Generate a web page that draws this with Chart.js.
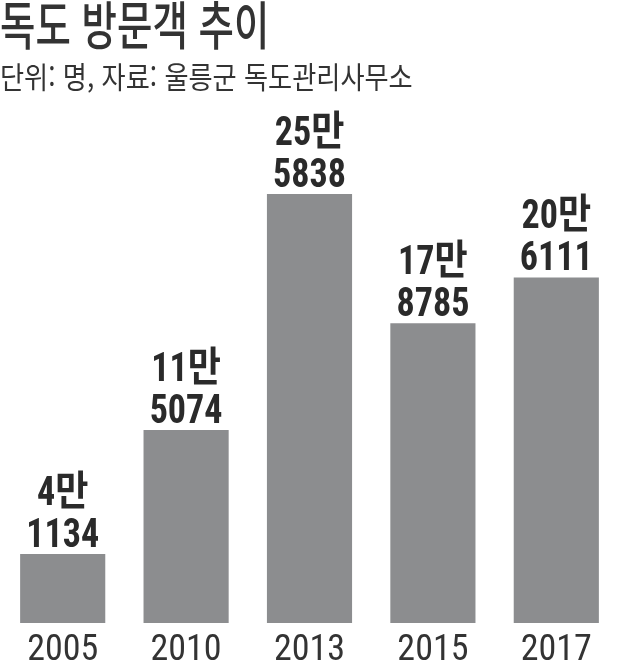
<!DOCTYPE html>
<html lang="ko">
<head>
<meta charset="utf-8">
<title>독도 방문객 추이</title>
<script src="https://cdn.jsdelivr.net/npm/chart.js"></script>
<style>
    html, body { margin: 0; padding: 0; background: #fff; }
    #wrap { position: relative; width: 620px; height: 668px; overflow: hidden; }
    .title {
        position: absolute; left: 0; top: -3px;
        font-family: "Noto Sans CJK KR", sans-serif; font-size: 52px; font-weight: 500; line-height: 1;
        color: #333; white-space: nowrap;
        transform: scaleX(0.74); transform-origin: left top;
    }
    .sub {
        position: absolute; left: 0; top: 60px;
        font-family: "Noto Sans CJK KR", sans-serif; font-size: 30px; line-height: 1;
        color: #333; white-space: nowrap;
        transform: scaleX(0.873); transform-origin: left top;
    }
    canvas { position: absolute; left: 0; top: 0; }
</style>
</head>
<body>
<div id="wrap">
    <canvas id="chart" width="620" height="668"></canvas>
    <div class="title">독도 방문객 추이</div>
    <div class="sub">단위: 명, 자료: 울릉군 독도관리사무소</div>
</div>
<script>
// 데이터
const years = ['2005', '2010', '2013', '2015', '2017'];
const visitors = [41134, 115074, 255838, 178785, 206111];
const yMax = 306000;

const BAR_COLOR = '#8c8d8f';
const TEXT_COLOR = '#2a2a2a';
const CONDENSED = '"Roboto Condensed", "Noto Sans CJK KR", sans-serif';

// 막대 위 값 표시 (4만 / 1134)
const valueLabels = {
    id: 'valueLabels',
    afterDatasetsDraw(chart) {
        const ctx = chart.ctx;
        const meta = chart.getDatasetMeta(0);
        ctx.save();
        ctx.fillStyle = TEXT_COLOR;
        ctx.font = 'bold 41px ' + CONDENSED;
        ctx.textAlign = 'center';
        ctx.textBaseline = 'alphabetic';
        meta.data.forEach((bar, i) => {
            const v = visitors[i];
            ctx.save();
            ctx.translate(bar.x, bar.y);
            ctx.scale(0.88, 1);
            ctx.fillText(Math.floor(v / 10000) + '만', 0, -49);
            ctx.fillText(String(v % 10000).padStart(4, '0'), 0, -7);
            ctx.restore();
        });
        ctx.restore();
    }
};

new Chart(document.getElementById('chart'), {
    type: 'bar',
    data: {
        labels: years,
        datasets: [{
            data: visitors,
            backgroundColor: BAR_COLOR,
            borderWidth: 0,
            barPercentage: 0.69,
            categoryPercentage: 1
        }]
    },
    options: {
        responsive: false,
        animation: false,
        layout: { padding: { top: 110, left: 1, right: 2, bottom: -11 } },
        plugins: {
            legend: { display: false },
            tooltip: { enabled: false }
        },
        scales: {
            x: {
                grid: { display: false, drawTicks: false },
                border: { display: false },
                ticks: {
                    color: '#333',
                    padding: 10,
                    font: { family: CONDENSED, size: 36, lineHeight: 1 }
                }
            },
            y: {
                display: false,
                min: 0,
                max: yMax
            }
        }
    },
    plugins: [valueLabels]
});
</script>
</body>
</html>
